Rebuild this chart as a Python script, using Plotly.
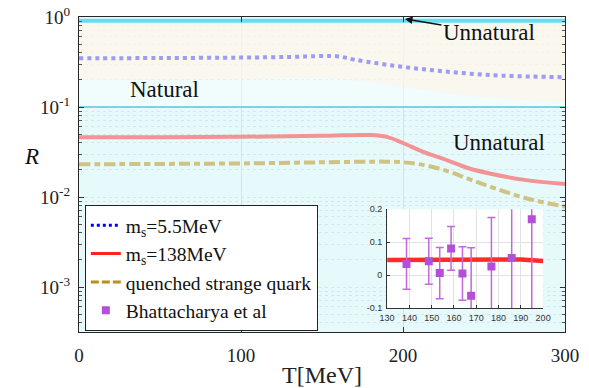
import numpy as np
import plotly.graph_objects as go

# ---------------- data ----------------
T_blue = [0, 50, 100, 130, 150, 160, 170, 185, 200, 215, 230, 245, 260, 280, 300]
R_blue = [0.348, 0.350, 0.354, 0.360, 0.368, 0.365, 0.336, 0.304, 0.279, 0.260, 0.244, 0.232, 0.223, 0.218, 0.214]

T_red = [0, 50, 100, 150, 180, 190, 200, 212, 225, 240, 255, 275, 300]
R_red = [0.046, 0.0462, 0.0467, 0.0478, 0.0488, 0.0465, 0.0398, 0.0320, 0.0265, 0.0210, 0.0180, 0.0155, 0.0139]

T_olive = [0, 50, 100, 150, 190, 200, 210, 225, 240, 255, 275, 300]
R_olive = [0.0231, 0.0233, 0.0236, 0.0243, 0.0247, 0.0243, 0.0232, 0.0200, 0.0160, 0.0128, 0.0098, 0.0078]

# natural / unnatural region boundaries
T_bound = [0, 100, 150, 180, 200, 230, 260, 300]
R_bound = [0.20, 0.205, 0.21, 0.19, 0.17, 0.14, 0.125, 0.114]
T_edges = [0, 300]
R_low_line = [0.1, 0.1]
R_top_line = [0.91, 0.91]

# inset: lattice data (Bhattacharya et al)
T_lat = [138.7, 148.7, 153.6, 158.7, 163.8, 167.7, 176.8, 185.9, 194.9]
R_lat = [0.034, 0.042, 0.006, 0.081, 0.005, -0.063, 0.026, 0.052, 0.169]
E_lat = [0.077, 0.070, 0.078, 0.066, 0.081, 0.146, 0.149, 0.30, 0.40]
T_inset = [130, 140, 150, 160, 170, 180, 185, 190, 200]
R_inset = [0.046, 0.046, 0.046, 0.047, 0.047, 0.047, 0.048, 0.047, 0.043]

y_major = [1e-3, 1e-2, 1e-1, 1]
y_major_text = ["10<sup>-3</sup>", "10<sup>-2</sup>", "10<sup>-1</sup>", "10<sup>0</sup>"]
x_ticks = [0, 100, 200, 300]
inset_xticks = [130, 140, 150, 160, 170, 180, 190, 200]
inset_yticks = [-0.1, 0, 0.1, 0.2]
inset_ytext = ["-0.1", "0", "0.1", "0.2"]

SERIF = "Liberation Serif, Times New Roman, Times, serif"
SANS = "Liberation Sans, Arial, Helvetica, sans-serif"

minor_vals = []
for e in [-4, -3, -2, -1]:
    for m in range(2, 10):
        v = m * 10.0 ** e
        if 10 ** -3.5 <= v < 1:
            minor_vals.append(v)

fig = go.Figure()

# background regions
fig.add_trace(go.Scatter(x=T_edges, y=R_low_line, mode="lines", line=dict(width=0),
                         showlegend=False, hoverinfo="skip"))
fig.add_trace(go.Scatter(x=T_bound, y=R_bound, mode="lines", line=dict(width=0, shape="spline"),
                         fill="tonexty", fillcolor="rgba(255,255,255,0.45)",
                         showlegend=False, hoverinfo="skip"))
fig.add_trace(go.Scatter(x=T_edges, y=R_top_line, mode="lines", line=dict(width=0),
                         fill="tonexty", fillcolor="rgba(255,246,232,0.76)",
                         showlegend=False, hoverinfo="skip"))
# cyan boundary lines
fig.add_trace(go.Scatter(x=T_edges, y=R_low_line, mode="lines", line=dict(width=2, color="#80d2e2"),
                         showlegend=False, hoverinfo="skip"))
fig.add_trace(go.Scatter(x=T_edges, y=R_top_line, mode="lines", line=dict(width=4, color="#6cdaf0"),
                         showlegend=False, hoverinfo="skip"))

# curves
fig.add_trace(go.Scatter(x=T_blue, y=R_blue, mode="lines",
                         line=dict(color="#9c9cf2", width=4, dash="4px,4px", shape="spline"),
                         showlegend=False))
fig.add_trace(go.Scatter(x=T_red, y=R_red, mode="lines",
                         line=dict(color="#f29495", width=4, shape="spline"),
                         showlegend=False))
fig.add_trace(go.Scatter(x=T_olive, y=R_olive, mode="lines",
                         line=dict(color="#cfc283", width=4, dash="11px,4px,6px,4px", shape="spline"),
                         showlegend=False))

# legend entries
fig.add_trace(go.Scatter(x=[None], y=[None], mode="lines", name="m<sub>s</sub>=5.5MeV",
                         line=dict(color="#0000ff", width=3, dash="dot")))
fig.add_trace(go.Scatter(x=[None], y=[None], mode="lines", name="m<sub>s</sub>=138MeV",
                         line=dict(color="#ff2020", width=3)))
fig.add_trace(go.Scatter(x=[None], y=[None], mode="lines", name="quenched strange quark",
                         line=dict(color="#b8901c", width=3, dash="8px,3px")))

# inset
fig.add_trace(go.Scatter(x=T_inset, y=R_inset, mode="lines", xaxis="x2", yaxis="y2",
                         line=dict(color="#ff2a2a", width=4.5), showlegend=False))
fig.add_trace(go.Scatter(x=T_lat, y=R_lat, mode="markers", xaxis="x2", yaxis="y2",
                         name="Bhattacharya et al",
                         marker=dict(symbol="square", size=8, color="#b450d8"),
                         error_y=dict(type="data", array=E_lat, color="#c466dc", thickness=1.5, width=4)))

fig.update_layout(
    width=589, height=388,
    margin=dict(l=79, r=24, t=17, b=56, autoexpand=False),
    paper_bgcolor="white",
    plot_bgcolor="#e6fafc",
    font=dict(family=SERIF, size=19, color="#222"),
    xaxis=dict(range=[0, 300], tickvals=x_ticks, ticks="inside", ticklen=5, tickcolor="#333",
               showline=True, linecolor="#262626", linewidth=1, mirror="ticks",
               showgrid=True, gridcolor="#d8e2e4", gridwidth=1, zeroline=False,
               ticklabelstandoff=6, automargin=False, tickfont=dict(family=SERIF, size=19),
               title=dict(text="T[MeV]", font=dict(size=24, family=SERIF), standoff=6)),
    yaxis=dict(type="log", range=[-3.5, 0], tickvals=y_major, ticktext=y_major_text,
               ticks="inside", ticklen=5, tickcolor="#333",
               showline=True, linecolor="#262626", linewidth=1, mirror="ticks",
               showgrid=True, gridcolor="#dce4e6", griddash="dot", zeroline=False,
               ticklabelstandoff=4, tickfont=dict(family=SERIF, size=19), automargin=False,
               minor=dict(tickvals=minor_vals, ticks="inside", ticklen=3, tickcolor="#555",
                          showgrid=True, gridcolor="#dce4e6", griddash="dot")),
    xaxis2=dict(domain=[0.634, 0.955], anchor="y2", range=[130, 200], tickvals=inset_xticks,
                ticks="inside", ticklen=3, tickcolor="#333",
                showline=True, linecolor="#333", linewidth=1, mirror=False,
                showgrid=True, gridcolor="#e2e2e2", zeroline=False, automargin=False,
                tickfont=dict(family=SANS, size=9, color="#333"), ticklabelstandoff=1),
    yaxis2=dict(domain=[0.076, 0.390], anchor="x2", range=[-0.1, 0.2], tickvals=inset_yticks,
                ticktext=inset_ytext, ticks="inside", ticklen=3, tickcolor="#333",
                showline=True, linecolor="#333", linewidth=1, mirror=False,
                showgrid=True, gridcolor="#e2e2e2", zeroline=False, automargin=False,
                tickfont=dict(family=SANS, size=9, color="#333"), ticklabelstandoff=2),
    legend=dict(x=0.012, y=0.403, xanchor="left", yanchor="top",
                bgcolor="white", bordercolor="#222", borderwidth=1,
                font=dict(family=SERIF, size=19.5, color="#111"),
                itemwidth=30, tracegroupgap=0, traceorder="normal"),
    shapes=[dict(type="rect", xref="x2", yref="y2", x0=130, x1=200, y0=-0.1, y1=0.2,
                 fillcolor="white", line=dict(width=0), layer="below")],
    annotations=[
        dict(text="Natural", x=52.5, y=-0.811, xref="x", yref="y", showarrow=False,
             font=dict(family=SERIF, size=23, color="#111")),
        dict(text="Unnatural", x=259.3, y=-1.389, xref="x", yref="y", showarrow=False,
             font=dict(family=SERIF, size=23, color="#111")),
        dict(text="Unnatural", x=201.2, y=-0.022, xref="x", yref="y", showarrow=True,
             ax=84, ay=14, arrowhead=2, arrowsize=1, arrowwidth=1.5, arrowcolor="#111",
             font=dict(family=SERIF, size=23, color="#111")),
        dict(text="<i>R</i>", x=-0.117, y=0.556, xref="paper", yref="paper", showarrow=False,
             font=dict(family=SERIF, size=23, color="#111")),
    ],
)

fig.write_html("out.html", config={"displayModeBar": False})
